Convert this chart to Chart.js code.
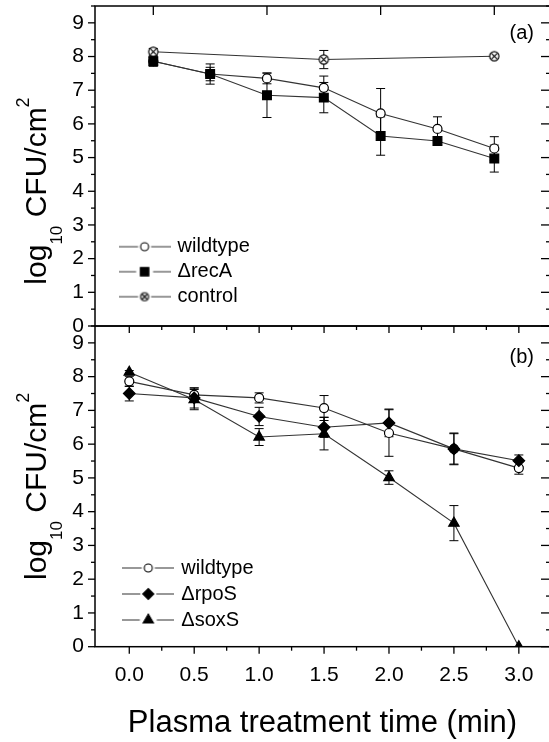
<!DOCTYPE html>
<html><head><meta charset="utf-8">
<script src="https://cdn.jsdelivr.net/npm/chart.js@4/dist/chart.umd.min.js"></script>
<style>
html,body{margin:0;padding:0;background:#fff;overflow:hidden;width:549px;height:742px;}
#wrap{position:relative;width:549px;height:742px;overflow:hidden;background:#fff;}
canvas{position:absolute;left:0;top:0;}
</style></head><body>
<div id="wrap"><canvas id="cTop" width="552" height="742"></canvas><canvas id="cBot" width="552" height="742"></canvas></div>
<script>
// ---------- data ----------
const timePoints = [0, 0.5, 1.0, 1.5, 2.0, 2.5, 3.0];
const controlTimes = [0, 1.5, 3.0];

const wildtypeA = [7.86, 7.48, 7.35, 7.07, 6.31, 5.85, 5.27];
const wildtypeAErr = [0.12, 0.2, 0.16, 0.35, 0.74, 0.36, 0.35];
const recA = [7.86, 7.48, 6.85, 6.78, 5.64, 5.49, 4.97];
const recAErr = [0.15, 0.3, 0.66, 0.45, 0.57, 0.05, 0.4];
const control = [8.14, 7.91, 8.01];
const controlErr = [0.1, 0.27, 0.06];

const wildtypeB = [7.86, 7.46, 7.37, 7.07, 6.33, 5.86, 5.29];
const wildtypeBErr = [0.15, 0.2, 0.15, 0.37, 0.69, 0.45, 0.18];
const rpoS = [7.5, 7.37, 6.82, 6.5, 6.63, 5.86, 5.51];
const rpoSErr = [0.22, 0.3, 0.27, 0.3, 0.41, 0.47, 0.17];
const soxS = [8.13, 7.32, 6.21, 6.31, 5.01, 3.66, 0];
const soxSErr = [0.05, 0.3, 0.25, 0.48, 0.2, 0.52, 0];

const seriesLabelsA = ['wildtype', '\u0394recA', 'control'];
const seriesLabelsB = ['wildtype', '\u0394rpoS', '\u0394soxS'];
const panelLabels = ['(a)', '(b)'];
const yTitle = ['log', '10', ' CFU/cm', '2'];
const xTitle = 'Plasma treatment time (min)';

const yTickValues = [0, 1, 2, 3, 4, 5, 6, 7, 8, 9];
const yMinorTicks = [0.5, 1.5, 2.5, 3.5, 4.5, 5.5, 6.5, 7.5, 8.5, 9.5];
const xTickValues = [0, 0.5, 1.0, 1.5, 2.0, 2.5, 3.0];
const xTickLabels = ['0.0', '0.5', '1.0', '1.5', '2.0', '2.5', '3.0'];
const xMinorTicks = [0.25, 0.75, 1.25, 1.75, 2.25, 2.75];
const topPanelTopTicks = [0, 1, 2, 3];

// ---------- styling helpers ----------
const FONT = '"Liberation Sans", Arial, Helvetica, sans-serif';
Chart.defaults.font.family = FONT;
Chart.defaults.color = '#000';
const LINE = '#333';

function pts(xs, ys) { return xs.map((x, i) => ({x: x, y: ys[i]})); }

function drawMarker(g, style, r, cx, cy) {
  g.beginPath();
  if (style === 'circle') { g.arc(cx, cy, r, 0, Math.PI * 2); }
  else if (style === 'rect') { const s = r * Math.SQRT1_2; g.rect(cx - s, cy - s, 2 * s, 2 * s); }
  else if (style === 'rectRot') { g.moveTo(cx - r, cy); g.lineTo(cx, cy - r); g.lineTo(cx + r, cy); g.lineTo(cx, cy + r); g.closePath(); }
  else if (style === 'triangle') {
    let a = 0; g.moveTo(cx + Math.sin(a) * r, cy - Math.cos(a) * r);
    a += 2 * Math.PI / 3; g.lineTo(cx + Math.sin(a) * r, cy - Math.cos(a) * r);
    a += 2 * Math.PI / 3; g.lineTo(cx + Math.sin(a) * r, cy - Math.cos(a) * r); g.closePath();
  }
  g.fill(); g.stroke();
}

function makeControlImage(r) {
  const c = document.createElement('canvas'); const sz = Math.ceil(2 * r + 3);
  c.width = sz; c.height = sz; const g = c.getContext('2d'); const m = sz / 2;
  g.fillStyle = '#fff'; g.strokeStyle = '#000'; g.lineWidth = 1.2;
  g.beginPath(); g.arc(m, m, r, 0, Math.PI * 2); g.fill(); g.stroke();
  const d = r * 0.68;
  g.beginPath(); g.moveTo(m - d, m - d); g.lineTo(m + d, m + d); g.moveTo(m + d, m - d); g.lineTo(m - d, m + d); g.stroke();
  return c;
}
const controlImg = makeControlImage(4.6);
const controlImgSmall = makeControlImage(4.0);

function legendImage(style, r, fill) {
  const c = document.createElement('canvas'); c.width = 52; c.height = 16;
  const g = c.getContext('2d'); const cx = 26, cy = 8;
  g.strokeStyle = LINE; g.lineWidth = 1.1;
  const gap = r + 2.5;
  g.beginPath(); g.moveTo(0, cy); g.lineTo(cx - gap, cy); g.moveTo(cx + gap, cy); g.lineTo(52, cy); g.stroke();
  if (style === 'control') {
    g.drawImage(controlImgSmall, cx - controlImgSmall.width / 2, cy - controlImgSmall.height / 2);
  } else {
    g.fillStyle = fill; g.strokeStyle = '#000'; g.lineWidth = 1.1;
    drawMarker(g, style, r, cx, cy);
  }
  return c;
}

// ---------- plugin: frame, ticks, titles, error bars, legend placement ----------
const decorPlugin = {
  id: 'decor',
  afterLayout(chart, args, opts) {
    const lg = chart.legend; const a = opts.legendAnchor;
    if (!lg || !a) return;
    const lo = chart.options.plugins.legend.labels;
    const p = lo.padding, bw = lo.pointStyleWidth, fs = lo.font.size;
    const w = lg.right - lg.left, h = lg.bottom - lg.top;
    lg.left = a.x - bw / 2 - p; lg.right = lg.left + w;
    lg.bottom = a.y + p + fs / 2; lg.top = lg.bottom - h;
  },
  beforeDatasetsDraw(chart) {
    const ctx = chart.ctx, xs = chart.scales.x, ys = chart.scales.y;
    ctx.save(); ctx.strokeStyle = '#000'; ctx.lineWidth = 1;
    chart.data.datasets.forEach(ds => {
      if (!ds.errorBars) return;
      ds.data.forEach((pt, i) => {
        const e = ds.errorBars[i]; if (!e) return;
        const x = xs.getPixelForValue(pt.x);
        const y1 = ys.getPixelForValue(pt.y - e), y2 = ys.getPixelForValue(pt.y + e);
        ctx.beginPath();
        ctx.moveTo(x, y1); ctx.lineTo(x, y2);
        ctx.moveTo(x - 4.5, y1); ctx.lineTo(x + 4.5, y1);
        ctx.moveTo(x - 4.5, y2); ctx.lineTo(x + 4.5, y2);
        ctx.stroke();
      });
    });
    ctx.restore();
  },
  afterDraw(chart, args, opts) {
    const ctx = chart.ctx, ca = chart.chartArea;
    ctx.save();
    // frame
    ctx.strokeStyle = '#000'; ctx.lineWidth = 1.5;
    ctx.strokeRect(ca.left, ca.top, ca.right - ca.left, ca.bottom - ca.top);
    // ticks
    ctx.lineWidth = 1.3;
    (opts.ticks || []).forEach(t => {
      const s = chart.scales[t.scale];
      t.values.forEach(v => {
        const p = s.getPixelForValue(v);
        ctx.beginPath();
        if (t.side === 'left' || t.side === 'right') {
          if (p < ca.top - 0.5 || p > ca.bottom + 0.5) return;
          const x0 = t.side === 'left' ? ca.left : ca.right;
          const sign = (t.side === 'left') === (t.dir === 'out') ? -1 : 1;
          ctx.moveTo(x0, p); ctx.lineTo(x0 + sign * t.len, p);
        } else {
          if (p < ca.left + 1 || p > ca.right - 1) return;
          const y0 = t.side === 'top' ? ca.top : ca.bottom;
          const sign = (t.side === 'top') === (t.dir === 'out') ? -1 : 1;
          ctx.moveTo(p, y0); ctx.lineTo(p, y0 + sign * t.len);
        }
        ctx.stroke();
      });
    });
    // panel label
    if (opts.panelLabel) {
      ctx.fillStyle = '#000'; ctx.font = '20px ' + FONT;
      ctx.textAlign = 'right'; ctx.textBaseline = 'middle';
      ctx.fillText(opts.panelLabel, ca.right - 16, ca.top + opts.panelLabelDy);
    }
    // y title with subscript / superscript
    if (opts.yTitle) {
      const cy = (ca.top + ca.bottom) / 2 + opts.yTitleDy;
      const parts = [
        {t: yTitle[0], f: '30px ' + FONT, dy: 0},
        {t: yTitle[1], f: '17px ' + FONT, dy: 16},
        {t: yTitle[2], f: '30px ' + FONT, dy: 0},
        {t: yTitle[3], f: '18px ' + FONT, dy: -17}
      ];
      let total = 0;
      parts.forEach(p => { ctx.font = p.f; p.w = ctx.measureText(p.t).width; total += p.w; });
      ctx.translate(46, cy); ctx.rotate(-Math.PI / 2);
      ctx.fillStyle = '#000'; ctx.textAlign = 'left'; ctx.textBaseline = 'alphabetic';
      let x = -total / 2;
      parts.forEach(p => { ctx.font = p.f; ctx.fillText(p.t, x, p.dy); x += p.w; });
    }
    ctx.restore();
  }
};

function legendCfg(images, padding) {
  return {
    position: 'chartArea', align: 'end',
    labels: {
      usePointStyle: true, pointStyleWidth: 46, padding: padding, color: '#000',
      font: {size: 20, family: FONT},
      generateLabels: chart => chart.data.datasets.map((ds, i) => ({
        text: ds.label, pointStyle: images[i], datasetIndex: i, hidden: false,
        fillStyle: '#000', strokeStyle: '#000', lineWidth: 0, fontColor: '#000'
      }))
    }
  };
}

function yAxis() {
  return {
    type: 'linear', min: 0, max: 9.5,
    afterBuildTicks: s => { s.ticks = yTickValues.map(v => ({value: v})); },
    afterFit: s => { s.width = 95; s.paddingTop = 0; s.paddingBottom = 0; },
    ticks: {font: {size: 21}, color: '#000', padding: 11, callback: v => String(v)},
    grid: {display: false, drawTicks: false}, border: {display: false}
  };
}

const lineDs = (label, xs, ys, errs, style, r, fill, order) => ({
  label: label, data: pts(xs, ys), errorBars: errs, order: order,
  borderColor: LINE, borderWidth: 1.1, fill: false, tension: 0,
  pointStyle: style, pointRadius: r, pointHoverRadius: r,
  pointBackgroundColor: fill, pointBorderColor: '#000', pointBorderWidth: 1.2
});

// ---------- top panel ----------
new Chart(document.getElementById('cTop'), {
  type: 'line',
  data: {datasets: [
    lineDs(seriesLabelsA[0], timePoints, wildtypeA, wildtypeAErr, 'circle', 4.5, '#fff', 3),
    lineDs(seriesLabelsA[1], timePoints, recA, recAErr, 'rect', 6.2, '#000', 1),
    lineDs(seriesLabelsA[2], controlTimes, control, controlErr, controlImg, 5, '#fff', 2)
  ]},
  plugins: [decorPlugin],
  options: {
    responsive: false, animation: false, events: [],
    layout: {padding: {left: 0, right: 2, top: 6, bottom: 416}, autoPadding: false},
    scales: {
      x: {type: 'linear', min: -0.513, max: 3.49, display: false},
      y: yAxis()
    },
    plugins: {
      tooltip: {enabled: false},
      legend: legendCfg([
        legendImage('circle', 4, '#fff'), legendImage('rect', 6, '#000'), legendImage('control', 4, '#fff')
      ], 5),
      decor: {
        legendAnchor: {x: 144.6, y: 296.7},
        panelLabel: panelLabels[0], panelLabelDy: 27,
        yTitle: true, yTitleDy: 25,
        ticks: [
          {scale: 'y', side: 'left', dir: 'out', len: 7, values: yTickValues},
          {scale: 'y', side: 'left', dir: 'out', len: 4, values: yMinorTicks},
          {scale: 'y', side: 'right', dir: 'in', len: 9, values: yTickValues},
          {scale: 'y', side: 'right', dir: 'in', len: 4, values: yMinorTicks},
          {scale: 'x', side: 'top', dir: 'in', len: 9, values: topPanelTopTicks}
        ]
      }
    }
  }
});

// ---------- bottom panel ----------
new Chart(document.getElementById('cBot'), {
  type: 'line',
  data: {datasets: [
    lineDs(seriesLabelsB[0], timePoints, wildtypeB, wildtypeBErr, 'circle', 4.5, '#fff', 3),
    lineDs(seriesLabelsB[1], timePoints, rpoS, rpoSErr, 'rectRot', 5.8, '#000', 2),
    lineDs(seriesLabelsB[2], timePoints, soxS, soxSErr, 'triangle', 6, '#000', 1)
  ]},
  plugins: [decorPlugin],
  options: {
    responsive: false, animation: false, events: [],
    layout: {padding: {left: 0, right: 2, top: 326, bottom: 0}, autoPadding: false},
    scales: {
      x: {
        type: 'linear', min: -0.264, max: 3.24,
        afterBuildTicks: s => { s.ticks = xTickValues.map(v => ({value: v})); },
        afterFit: s => { s.height = 95.3; },
        ticks: {font: {size: 21}, color: '#000', padding: 16, maxRotation: 0,
          callback: (v, i) => xTickLabels[i]},
        grid: {display: false, drawTicks: false}, border: {display: false},
        title: {display: true, text: xTitle, color: '#000', font: {size: 31}, padding: {top: 0, bottom: 0}}
      },
      y: yAxis()
    },
    plugins: {
      tooltip: {enabled: false},
      legend: legendCfg([
        legendImage('circle', 4, '#fff'), legendImage('rectRot', 5.5, '#000'), legendImage('triangle', 6, '#000')
      ], 6),
      decor: {
        legendAnchor: {x: 148.3, y: 620},
        panelLabel: panelLabels[1], panelLabelDy: 31,
        yTitle: true, yTitleDy: 0,
        ticks: [
          {scale: 'y', side: 'left', dir: 'out', len: 7, values: yTickValues},
          {scale: 'y', side: 'left', dir: 'out', len: 4, values: yMinorTicks},
          {scale: 'y', side: 'right', dir: 'in', len: 9, values: yTickValues},
          {scale: 'y', side: 'right', dir: 'in', len: 4, values: yMinorTicks},
          {scale: 'x', side: 'top', dir: 'in', len: 7, values: xTickValues},
          {scale: 'x', side: 'top', dir: 'in', len: 4, values: xMinorTicks},
          {scale: 'x', side: 'bottom', dir: 'out', len: 7, values: xTickValues},
          {scale: 'x', side: 'bottom', dir: 'out', len: 4, values: xMinorTicks}
        ]
      }
    }
  }
});
</script>
</body></html>
